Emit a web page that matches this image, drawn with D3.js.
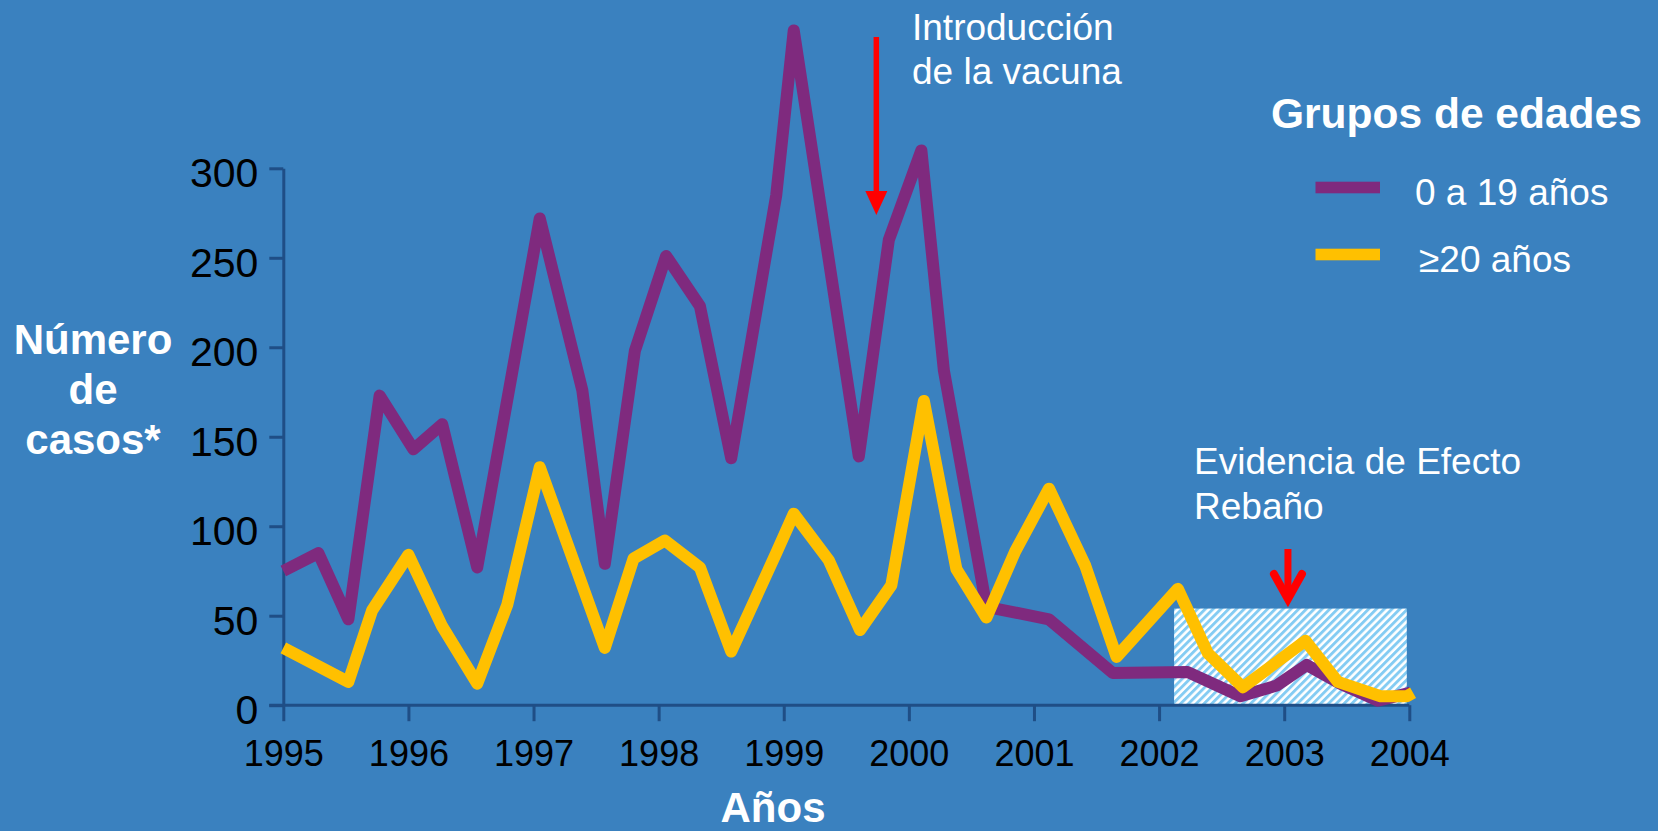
<!DOCTYPE html>
<html lang="es">
<head>
<meta charset="utf-8">
<script src="https://cdn.jsdelivr.net/npm/d3@7"></script>
<style>
  html, body { margin: 0; padding: 0; background: #3a81bf; }
  svg { display: block; }
  text { font-family: "Liberation Sans", Arial, Helvetica, sans-serif; }
</style>
</head>
<body>
<svg id="grafico" width="1658" height="831"></svg>
<script>
// Casos por grupo de edad (fecha en años decimales)
const fechas0a19 = [1995.00, 1995.28, 1995.52, 1995.77, 1996.04, 1996.27, 1996.55, 1997.05,
  1997.39, 1997.57, 1997.81, 1998.06, 1998.33, 1998.58, 1998.94, 1999.08, 1999.60, 1999.84,
  2000.10, 2000.28, 2000.62, 2001.12, 2001.63, 2002.23, 2002.65, 2002.94, 2003.18, 2003.45,
  2003.75, 2004.01];
const casos0a19 = [75, 85, 48, 173, 143, 157, 77, 272,
  176, 79, 198, 251, 223, 138, 285, 377, 139, 260,
  310, 187, 55, 48, 18, 18.5, 5, 11, 22.5, 12,
  2.5, 7];

const fechas20mas = [1995.00, 1995.52, 1995.71, 1996.00, 1996.27, 1996.55, 1996.79, 1997.05,
  1997.57, 1997.80, 1998.05, 1998.33, 1998.58, 1998.94, 1999.08, 1999.36, 1999.61, 1999.86,
  2000.12, 2000.38, 2000.62, 2000.85, 2001.12, 2001.41, 2001.66, 2002.15, 2002.39, 2002.67,
  2003.17, 2003.43, 2003.77, 2003.98, 2004.03];
const casos20mas = [32, 13, 53, 84, 44, 12, 56, 133,
  32, 82, 92, 77, 30, 85, 107, 81, 42, 67,
  170, 76, 49, 86, 121, 78, 27, 65, 29, 10,
  36, 13, 5, 5, 7];

const anios = [1995, 1996, 1997, 1998, 1999, 2000, 2001, 2002, 2003, 2004];
const marcasY = [0, 50, 100, 150, 200, 250, 300];

const series = [
  { nombre: "0 a 19 años", fechas: fechas0a19, casos: casos0a19, color: "#7f2a7e" },
  { nombre: "\u226520 años", fechas: fechas20mas, casos: casos20mas, color: "#ffc000" }
];

// Introducción de la vacuna y periodo de efecto rebaño
const fechaVacuna = 1999.74;
const efectoRebano = { desde: 2002.12, hasta: 2003.98, casos: 54, flecha: 2003.03 };

const svg = d3.select("#grafico");
const W = 1658, H = 831;

svg.append("rect").attr("width", W).attr("height", H).attr("fill", "#3a81bf");

const x = d3.scaleLinear().domain([1995, 2004]).range([283.3, 1409.3]);
const y = d3.scaleLinear().domain([0, 300]).range([705.2, 168.3]);

const ejeColor = "#1f4e86";

// Patrón rayado del recuadro
const defs = svg.append("defs");
const pat = defs.append("pattern")
  .attr("id", "rayas")
  .attr("patternUnits", "userSpaceOnUse")
  .attr("width", 5.5).attr("height", 5.5)
  .attr("patternTransform", "rotate(45)");
pat.append("rect").attr("width", 5.5).attr("height", 5.5).attr("fill", "#ffffff");
pat.append("rect").attr("width", 2.9).attr("height", 5.5).attr("fill", "#84ccf3");

svg.append("rect")
  .attr("x", x(efectoRebano.desde))
  .attr("y", y(efectoRebano.casos))
  .attr("width", x(efectoRebano.hasta) - x(efectoRebano.desde))
  .attr("height", y(0) - y(efectoRebano.casos))
  .attr("fill", "url(#rayas)");

// Ejes
const ejeY = svg.append("g")
  .attr("transform", `translate(${x(1995)},0)`)
  .call(d3.axisLeft(y).tickValues(marcasY).tickSize(14).tickSizeOuter(0).tickPadding(11));
ejeY.select(".domain").attr("stroke", ejeColor).attr("stroke-width", 3);
ejeY.selectAll(".tick line").attr("stroke", ejeColor).attr("stroke-width", 3);
ejeY.selectAll(".tick text")
  .attr("fill", "#000").attr("font-size", 41).attr("dy", "0.45em")
  .style("font-family", "'Liberation Sans', Arial, sans-serif");

const ejeX = svg.append("g")
  .attr("transform", `translate(0,${y(0)})`)
  .call(d3.axisBottom(x).tickValues(anios).tickFormat(d3.format("d"))
    .tickSize(16).tickSizeOuter(0).tickPadding(19));
ejeX.select(".domain").attr("stroke", ejeColor).attr("stroke-width", 3)
  .attr("d", `M${x(1995) - 14},0H${x(2004)}`);
ejeX.selectAll(".tick line").attr("stroke", ejeColor).attr("stroke-width", 3);
ejeX.selectAll(".tick text")
  .attr("fill", "#000").attr("font-size", 36)
  .style("font-family", "'Liberation Sans', Arial, sans-serif");

// Líneas de casos (adultos encima)
const linea = d3.line().x(d => x(d[0])).y(d => y(d[1]));
series.forEach(s => {
  const pts = s.fechas.map((f, i) => [f, s.casos[i]]);
  svg.append("path")
    .datum(pts)
    .attr("d", linea)
    .attr("fill", "none")
    .attr("stroke", s.color)
    .attr("stroke-width", 12)
    .attr("stroke-linejoin", "round")
    .attr("stroke-linecap", "butt");
});

// Flecha: introducción de la vacuna
const rojo = "#ff0000";
const xv = x(fechaVacuna);
svg.append("line")
  .attr("x1", xv).attr("x2", xv).attr("y1", 37).attr("y2", 195)
  .attr("stroke", rojo).attr("stroke-width", 5.5);
svg.append("path")
  .attr("d", `M${xv - 11},191 L${xv + 11},191 L${xv},215 Z`)
  .attr("fill", rojo);

// Flecha: efecto rebaño
const xr = x(efectoRebano.flecha);
svg.append("line")
  .attr("x1", xr).attr("x2", xr).attr("y1", 549).attr("y2", 596)
  .attr("stroke", rojo).attr("stroke-width", 7);
svg.append("path")
  .attr("d", `M${xr - 14},574 L${xr},599 L${xr + 14},574`)
  .attr("fill", "none").attr("stroke", rojo).attr("stroke-width", 8)
  .attr("stroke-linecap", "round").attr("stroke-linejoin", "miter");

// Textos
const blanco = "#ffffff";
const tY = svg.append("text").attr("fill", blanco).attr("font-weight", "bold")
  .attr("font-size", 42).attr("text-anchor", "middle");
[["Número", 354], ["de", 404], ["casos*", 454]].forEach(([t, b]) =>
  tY.append("tspan").attr("x", 93).attr("y", b).text(t));

svg.append("text").attr("x", 773).attr("y", 822)
  .attr("fill", blanco).attr("font-weight", "bold").attr("font-size", 42)
  .attr("text-anchor", "middle").text("Años");

const tV = svg.append("text").attr("fill", blanco).attr("font-size", 37);
tV.append("tspan").attr("x", 912).attr("y", 40).text("Introducción");
tV.append("tspan").attr("x", 912).attr("y", 84).text("de la vacuna");

const tE = svg.append("text").attr("fill", blanco).attr("font-size", 37);
tE.append("tspan").attr("x", 1194).attr("y", 474).text("Evidencia de Efecto");
tE.append("tspan").attr("x", 1194).attr("y", 519).text("Rebaño");

// Leyenda
svg.append("text").attr("x", 1271).attr("y", 128)
  .attr("fill", blanco).attr("font-weight", "bold").attr("font-size", 42.5)
  .text("Grupos de edades");
const leyenda = svg.append("g");
series.forEach((s, i) => {
  const yy = 187.5 + i * 67;
  leyenda.append("rect")
    .attr("x", 1315.5).attr("y", yy - 5.8).attr("width", 64.5).attr("height", 11.6)
    .attr("fill", s.color);
  leyenda.append("text")
    .attr("x", i === 0 ? 1415 : 1419).attr("y", yy + 17.5)
    .attr("fill", blanco).attr("font-size", 37)
    .text(s.nombre);
});
</script>
</body>
</html>
